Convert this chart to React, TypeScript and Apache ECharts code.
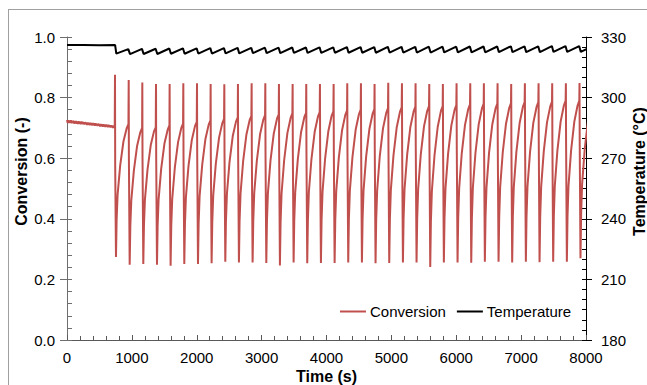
import { useEffect, useRef } from "react";
import * as echarts from "echarts";

const FONT = "'Liberation Sans', Arial, sans-serif";

// x axis: time (s); left: conversion (-); right: temperature (°C)
const timeRange = [0, 8000];
const conversionRange = [0, 1];
const temperatureRange = [180, 330];

// steady section before cycling starts: [time, conversion]
const conversionStartup: [number, number][] = [
  [0, 0.726], [10, 0.717], [20, 0.725], [30, 0.716], [40, 0.724], [50, 0.717], [60, 0.725], [70, 0.715],
  [80, 0.723], [90, 0.716], [100, 0.724], [110, 0.714], [120, 0.722], [130, 0.715], [140, 0.723], [150, 0.714],
  [160, 0.721], [170, 0.713], [180, 0.722], [190, 0.714], [200, 0.72], [210, 0.712], [220, 0.721], [230, 0.713],
  [240, 0.72], [250, 0.712], [260, 0.719], [270, 0.711], [280, 0.719], [290, 0.712], [300, 0.718], [310, 0.71],
  [320, 0.718], [330, 0.711], [340, 0.717], [350, 0.709], [360, 0.717], [370, 0.71], [380, 0.716], [390, 0.708],
  [400, 0.716], [410, 0.709], [420, 0.715], [430, 0.707], [440, 0.715], [450, 0.708], [460, 0.714], [470, 0.706],
  [480, 0.714], [490, 0.707], [500, 0.713], [510, 0.705], [520, 0.713], [530, 0.706], [540, 0.712], [550, 0.704],
  [560, 0.712], [570, 0.705], [580, 0.711], [590, 0.703], [600, 0.711], [610, 0.704], [620, 0.71], [630, 0.702],
  [640, 0.71], [650, 0.703], [660, 0.709], [670, 0.701], [680, 0.709], [690, 0.702], [700, 0.708], [710, 0.7],
  [720, 0.707], [730, 0.701], [736, 0.705],
];

// start of each cycle (s)
const cycleTimes = [
  740, 951, 1161, 1372, 1582, 1793, 2004, 2214, 2425, 2635, 2846, 3057, 3267, 3478, 3688, 3899, 4110, 4320,
  4531, 4741, 4952, 5163, 5373, 5584, 5794, 6005, 6216, 6426, 6637, 6847, 7058, 7269, 7479, 7690, 7900,
];
// conversion spike top at cycle start
const cyclePeaks = [
  0.875, 0.858, 0.85, 0.845, 0.845, 0.847, 0.847, 0.845, 0.844, 0.845, 0.847, 0.847, 0.845, 0.845, 0.845, 0.845,
  0.845, 0.847, 0.847, 0.845, 0.849, 0.847, 0.847, 0.845, 0.845, 0.847, 0.847, 0.847, 0.847, 0.845, 0.847, 0.847,
  0.847, 0.847, 0.848,
];
// where the spike comes back down to
const cycleDrops = [
  0.57, 0.6, 0.6, 0.6, 0.605, 0.605, 0.61, 0.61, 0.612, 0.612, 0.615, 0.615, 0.618, 0.62, 0.62, 0.622, 0.625,
  0.625, 0.628, 0.63, 0.632, 0.632, 0.635, 0.635, 0.638, 0.64, 0.64, 0.642, 0.645, 0.645, 0.648, 0.648, 0.65,
  0.65, 0.65,
];
// lowest conversion of each cycle
const cycleMins = [
  0.274, 0.248, 0.251, 0.248, 0.245, 0.251, 0.251, 0.253, 0.258, 0.256, 0.256, 0.254, 0.246, 0.256, 0.253, 0.254,
  0.254, 0.256, 0.256, 0.253, 0.254, 0.256, 0.256, 0.241, 0.256, 0.256, 0.255, 0.258, 0.258, 0.256, 0.258, 0.257,
  0.258, 0.258, 0.27,
];
// conversion reached at the end of each recovery
const cycleRiseEnds = [
  0.712, 0.7, 0.702, 0.708, 0.714, 0.72, 0.725, 0.73, 0.735, 0.74, 0.742, 0.745, 0.748, 0.75, 0.752, 0.755, 0.758,
  0.76, 0.762, 0.765, 0.768, 0.77, 0.772, 0.772, 0.775, 0.778, 0.78, 0.78, 0.782, 0.785, 0.785, 0.787, 0.79, 0.79,
  0.79,
];
const riseOffsets = [25, 40, 80, 130, 180];
const riseShares = [0.28, 0.47, 0.69, 0.87, 0.97];

// temperature
const temperatureStartup: [number, number][] = [[0, 326], [250, 326.1], [500, 325.9], [742, 326]];
const temperatureLows = [
  321.8, 321.5, 321.6, 321.6, 321.7, 321.7, 321.8, 321.8, 321.9, 321.9, 322.0, 322.0, 322.0, 322.1, 322.1, 322.1,
  322.2, 322.2, 322.2, 322.2, 322.3, 322.3, 322.3, 322.3, 322.4, 322.4, 322.4, 322.4, 322.5, 322.5, 322.5, 322.5,
  322.6, 322.6, 322.6,
];
const temperatureHighs = [
  324.0, 324.1, 324.2, 324.3, 324.4, 324.4, 324.5, 324.5, 324.6, 324.6, 324.7, 324.7, 324.8, 324.8, 324.9, 324.9,
  325.0, 325.0, 325.0, 325.1, 325.1, 325.1, 325.2, 325.2, 325.2, 325.3, 325.3, 325.3, 325.4, 325.4, 325.4, 325.5,
  325.5, 325.5, 325.5,
];

function buildConversion(): [number, number][] {
  const out: [number, number][] = [...conversionStartup];
  cycleTimes.forEach((t, k) => {
    const m = cycleMins[k];
    const e = cycleRiseEnds[k];
    out.push([t, cyclePeaks[k]]);
    out.push([t + 3, cycleDrops[k]]);
    out.push([t + 15, m]);
    riseOffsets.forEach((o, j) => out.push([t + o, +(m + riseShares[j] * (e - m)).toFixed(4)]));
    out.push([t + 207, e]);
  });
  return out;
}

function buildTemperature(): [number, number][] {
  const out: [number, number][] = [...temperatureStartup];
  cycleTimes.forEach((t, k) => {
    out.push([t + 20, temperatureLows[k]]);
    out.push([t + 205, temperatureHighs[k]]);
  });
  return out;
}

export default function App() {
  const ref = useRef<HTMLDivElement>(null);
  useEffect(() => {
    if (!ref.current) return;
    const chart = echarts.init(ref.current, undefined, { renderer: "svg" });
    const labelStyle = { fontSize: 15, color: "#000", fontFamily: FONT };
    const nameStyle = { fontSize: 16, fontWeight: "bold" as const, color: "#000", fontFamily: FONT };
    const yNameStyle = { ...nameStyle, padding: [0, 0, 0, 34] };
    const xBase = { type: "value" as const, min: timeRange[0], max: timeRange[1], interval: 1000, splitLine: { show: false } };
    const yLeftBase = { type: "value" as const, min: conversionRange[0], max: conversionRange[1], interval: 0.2, splitLine: { show: false }, position: "left" as const };
    const yRightBase = { type: "value" as const, min: temperatureRange[0], max: temperatureRange[1], interval: 30, splitLine: { show: false }, position: "right" as const };
    chart.setOption({
      animation: false,
      textStyle: { fontFamily: FONT },
      grid: { left: 67, right: 61, top: 37, bottom: 45, containLabel: false, outerBoundsMode: "none" },
      graphic: [
        { type: "line", shape: { x1: 8, y1: 9.5, x2: 647, y2: 9.5 }, style: { stroke: "#a0a0a0", lineWidth: 1 } },
        { type: "line", shape: { x1: 8.5, y1: 9, x2: 8.5, y2: 385 }, style: { stroke: "#a0a0a0", lineWidth: 1 } },
      ],
      legend: {
        data: [
          { name: "Conversion", icon: "rect", itemStyle: { color: "#C0504D" } },
          { name: "Temperature", icon: "rect", itemStyle: { color: "#000" } },
        ],
        left: 340,
        top: 304,
        padding: 0,
        itemWidth: 26,
        itemHeight: 2,
        itemGap: 11,
        textStyle: { ...labelStyle, padding: [0, 0, 0, -1] },
      },
      xAxis: [
        {
          ...xBase,
          name: "Time (s)",
          nameLocation: "middle",
          nameGap: 28,
          nameMoveOverlap: false,
          nameTextStyle: nameStyle,
          axisLine: { lineStyle: { color: "#595959", width: 1 } },
          axisTick: { inside: true, length: 5, lineStyle: { color: "#595959" } },
          minorTick: { show: true, splitNumber: 5, length: 4, lineStyle: { color: "#595959" } },
          axisLabel: { ...labelStyle, margin: 10, formatter: (v: number) => String(v) },
        },
        {
          ...xBase,
          axisLine: { show: false },
          axisTick: { inside: false, length: 5, lineStyle: { color: "#595959" } },
          axisLabel: { show: false },
        },
      ],
      yAxis: [
        {
          ...yLeftBase,
          name: "Conversion (-)",
          nameLocation: "middle",
          nameGap: 38,
          nameMoveOverlap: false,
          nameTextStyle: yNameStyle,
          axisLine: { show: true, lineStyle: { color: "#6e6e6e", width: 1 } },
          axisTick: { show: true, inside: true, length: 5, lineStyle: { color: "#6e6e6e" } },
          minorTick: { show: true, splitNumber: 5, length: 5, lineStyle: { color: "#6e6e6e" } },
          axisLabel: { ...labelStyle, margin: 12, formatter: (v: number) => v.toFixed(1) },
        },
        {
          ...yLeftBase,
          axisLine: { show: false },
          axisTick: { show: true, inside: false, length: 7, lineStyle: { color: "#6e6e6e" } },
          axisLabel: { show: false },
        },
        {
          ...yRightBase,
          name: "Temperature (°C)",
          nameLocation: "middle",
          nameGap: 45,
          nameMoveOverlap: false,
          nameTextStyle: yNameStyle,
          axisLine: { show: true, lineStyle: { color: "#000", width: 1 } },
          axisTick: { show: true, inside: true, length: 4, lineStyle: { color: "#000" } },
          minorTick: { show: true, splitNumber: 6, length: 4, lineStyle: { color: "#000" } },
          axisLabel: { ...labelStyle, margin: 15, formatter: (v: number) => String(v) },
        },
        {
          ...yRightBase,
          axisLine: { show: false },
          axisTick: { show: true, inside: false, length: 6, lineStyle: { color: "#000" } },
          axisLabel: { show: false },
        },
      ],
      series: [
        {
          name: "Conversion",
          type: "line",
          xAxisIndex: 0,
          yAxisIndex: 0,
          data: buildConversion(),
          symbol: "none",
          showSymbol: false,
          lineStyle: { color: "#C0504D", width: 2 },
          itemStyle: { color: "#C0504D" },
          z: 2,
        },
        {
          name: "Temperature",
          type: "line",
          xAxisIndex: 0,
          yAxisIndex: 2,
          data: buildTemperature(),
          symbol: "none",
          showSymbol: false,
          lineStyle: { color: "#000", width: 2 },
          itemStyle: { color: "#000" },
          z: 3,
        },
      ],
    });
    return () => chart.dispose();
  }, []);
  return <div ref={ref} style={{ width: 647, height: 385, position: "absolute", left: 0, top: 0 }} />;
}
